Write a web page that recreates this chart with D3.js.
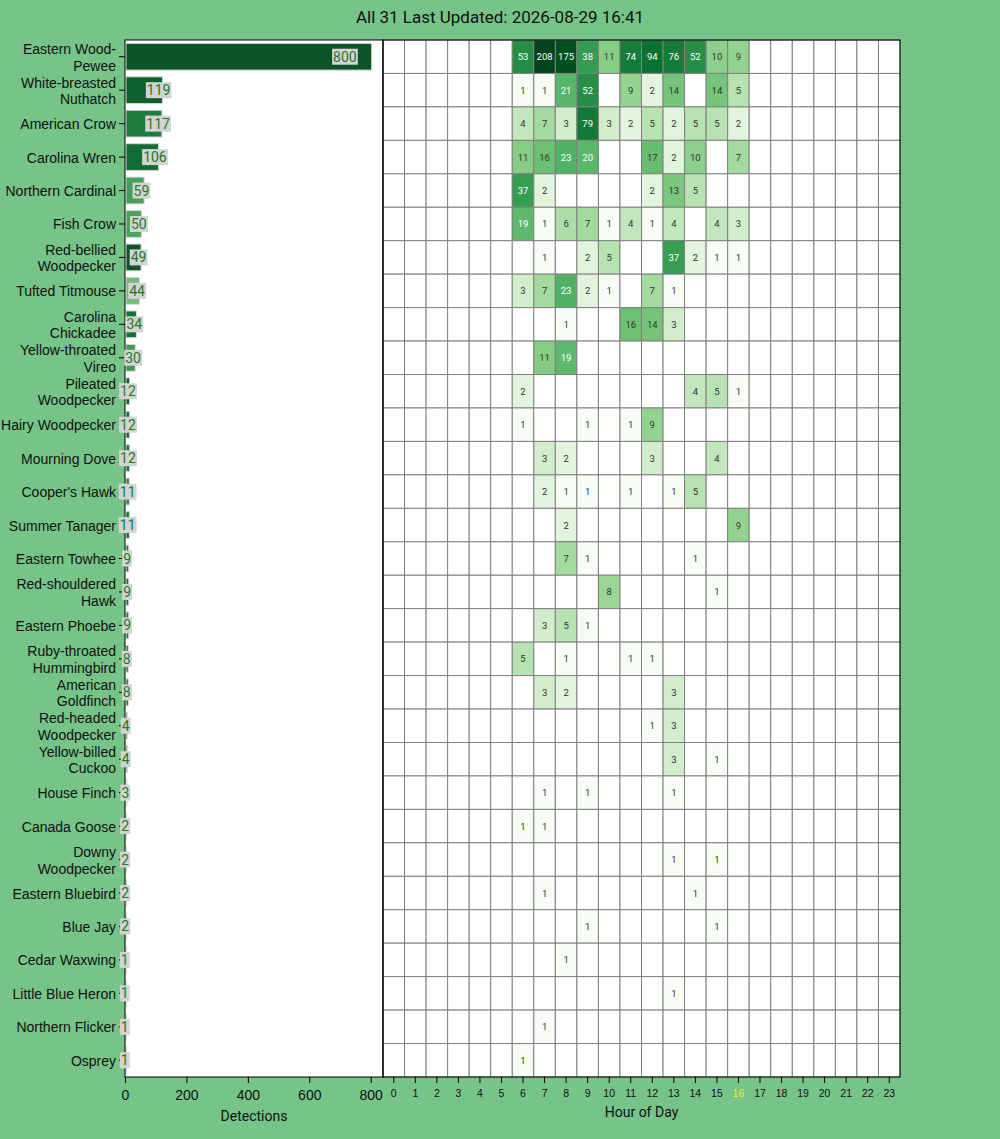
<!DOCTYPE html>
<html>
<head>
<meta charset="utf-8">
<script src="https://cdn.jsdelivr.net/npm/d3@7"></script>
<style>
  body { margin: 0; background: #76c488; }
  svg { display: block; font-family: Roboto, "DejaVu Sans", sans-serif; }
</style>
</head>
<body>
<div id="chart"></div>
<script>
// Chart data
const titleText = "All 31 Last Updated: 2026-08-29 16:41";
const currentHour = 16;

const species = [
  "Eastern Wood-Pewee", "White-breasted Nuthatch", "American Crow", "Carolina Wren",
  "Northern Cardinal", "Fish Crow", "Red-bellied Woodpecker", "Tufted Titmouse",
  "Carolina Chickadee", "Yellow-throated Vireo", "Pileated Woodpecker", "Hairy Woodpecker",
  "Mourning Dove", "Cooper's Hawk", "Summer Tanager", "Eastern Towhee",
  "Red-shouldered Hawk", "Eastern Phoebe", "Ruby-throated Hummingbird", "American Goldfinch",
  "Red-headed Woodpecker", "Yellow-billed Cuckoo", "House Finch", "Canada Goose",
  "Downy Woodpecker", "Eastern Bluebird", "Blue Jay", "Cedar Waxwing",
  "Little Blue Heron", "Northern Flicker", "Osprey"
];

const totals = [800, 119, 117, 106, 59, 50, 49, 44, 34, 30, 12, 12, 12, 11, 11, 9,
  9, 9, 8, 8, 4, 4, 3, 2, 2, 2, 2, 1, 1, 1, 1];

// mean confidence per species (drives the bar shade)
const meanConfidence = [0.97, 0.92, 0.80, 0.87, 0.62, 0.60, 0.97, 0.45, 0.85, 0.65, 0.92, 0.85,
  0.82, 0.75, 0.85, 0.8, 0.85, 0.8, 0.75, 0.8, 0.8, 0.75, 0.8, 0.8, 0.7, 0.8, 0.8, 0.7, 0.7, 0.7, 0.7];

const hours = d3.range(24);

// detections per hour, 0..23, one row per species
const hourly = [
  [0,0,0,0,0,0,53,208,175,38,11,74,94,76,52,10,9,0,0,0,0,0,0,0],
  [0,0,0,0,0,0,1,1,21,52,0,9,2,14,0,14,5,0,0,0,0,0,0,0],
  [0,0,0,0,0,0,4,7,3,79,3,2,5,2,5,5,2,0,0,0,0,0,0,0],
  [0,0,0,0,0,0,11,16,23,20,0,0,17,2,10,0,7,0,0,0,0,0,0,0],
  [0,0,0,0,0,0,37,2,0,0,0,0,2,13,5,0,0,0,0,0,0,0,0,0],
  [0,0,0,0,0,0,19,1,6,7,1,4,1,4,0,4,3,0,0,0,0,0,0,0],
  [0,0,0,0,0,0,0,1,0,2,5,0,0,37,2,1,1,0,0,0,0,0,0,0],
  [0,0,0,0,0,0,3,7,23,2,1,0,7,1,0,0,0,0,0,0,0,0,0,0],
  [0,0,0,0,0,0,0,0,1,0,0,16,14,3,0,0,0,0,0,0,0,0,0,0],
  [0,0,0,0,0,0,0,11,19,0,0,0,0,0,0,0,0,0,0,0,0,0,0,0],
  [0,0,0,0,0,0,2,0,0,0,0,0,0,0,4,5,1,0,0,0,0,0,0,0],
  [0,0,0,0,0,0,1,0,0,1,0,1,9,0,0,0,0,0,0,0,0,0,0,0],
  [0,0,0,0,0,0,0,3,2,0,0,0,3,0,0,4,0,0,0,0,0,0,0,0],
  [0,0,0,0,0,0,0,2,1,1,0,1,0,1,5,0,0,0,0,0,0,0,0,0],
  [0,0,0,0,0,0,0,0,2,0,0,0,0,0,0,0,9,0,0,0,0,0,0,0],
  [0,0,0,0,0,0,0,0,7,1,0,0,0,0,1,0,0,0,0,0,0,0,0,0],
  [0,0,0,0,0,0,0,0,0,0,8,0,0,0,0,1,0,0,0,0,0,0,0,0],
  [0,0,0,0,0,0,0,3,5,1,0,0,0,0,0,0,0,0,0,0,0,0,0,0],
  [0,0,0,0,0,0,5,0,1,0,0,1,1,0,0,0,0,0,0,0,0,0,0,0],
  [0,0,0,0,0,0,0,3,2,0,0,0,0,3,0,0,0,0,0,0,0,0,0,0],
  [0,0,0,0,0,0,0,0,0,0,0,0,1,3,0,0,0,0,0,0,0,0,0,0],
  [0,0,0,0,0,0,0,0,0,0,0,0,0,3,0,1,0,0,0,0,0,0,0,0],
  [0,0,0,0,0,0,0,1,0,1,0,0,0,1,0,0,0,0,0,0,0,0,0,0],
  [0,0,0,0,0,0,1,1,0,0,0,0,0,0,0,0,0,0,0,0,0,0,0,0],
  [0,0,0,0,0,0,0,0,0,0,0,0,0,1,0,1,0,0,0,0,0,0,0,0],
  [0,0,0,0,0,0,0,1,0,0,0,0,0,0,1,0,0,0,0,0,0,0,0,0],
  [0,0,0,0,0,0,0,0,0,1,0,0,0,0,0,1,0,0,0,0,0,0,0,0],
  [0,0,0,0,0,0,0,0,1,0,0,0,0,0,0,0,0,0,0,0,0,0,0,0],
  [0,0,0,0,0,0,0,0,0,0,0,0,0,1,0,0,0,0,0,0,0,0,0,0],
  [0,0,0,0,0,0,0,1,0,0,0,0,0,0,0,0,0,0,0,0,0,0,0,0],
  [0,0,0,0,0,0,1,0,0,0,0,0,0,0,0,0,0,0,0,0,0,0,0,0]
];

// Layout
const width = 1000, height = 1139;
const plotTop = 40, plotBottom = 1077;
const barLeft = 125, barRight = 383, heatRight = 900;

const svg = d3.select("#chart").append("svg")
  .attr("width", width)
  .attr("height", height);

svg.append("rect").attr("width", width).attr("height", height).attr("fill", "#76c488");

svg.append("text")
  .attr("x", width / 2)
  .attr("y", 23)
  .attr("text-anchor", "middle")
  .attr("font-size", 17)
  .attr("fill", "#111")
  .text(titleText);

// Scales
const y = d3.scaleBand().domain(species).range([plotTop, plotBottom]);
const x = d3.scaleLinear().domain([0, d3.max(totals) * 1.05]).range([barLeft, barRight]);
const hx = d3.scaleBand().domain(hours).range([barRight, heatRight]);
const barColor = d3.scaleSequential(d3.interpolateGreens).domain([0, 1]);
const heatColor = d3.scaleSequentialLog(d3.interpolateGreens).domain([1, d3.max(hourly.flat())]);

// Panels
svg.append("rect").attr("x", barLeft).attr("y", plotTop)
  .attr("width", barRight - barLeft).attr("height", plotBottom - plotTop).attr("fill", "white");
svg.append("rect").attr("x", barRight).attr("y", plotTop)
  .attr("width", heatRight - barRight).attr("height", plotBottom - plotTop).attr("fill", "white");

// Bars (slightly muted like the original)
const rows = species.map((s, i) => ({ name: s, total: totals[i], conf: meanConfidence[i] }));
const barPad = 0.2 * y.bandwidth() / 2;

svg.selectAll(".bar").data(rows).enter()
  .append("rect")
  .attr("class", "bar")
  .attr("x", x(0) + 1)
  .attr("y", d => y(d.name) + barPad)
  .attr("width", d => Math.max(x(d.total) - x(0), 0))
  .attr("height", y.bandwidth() - 2 * barPad)
  .attr("fill", d => d3.interpolateRgb(barColor(d.conf), "#3a6e4c")(0.2))
  .attr("stroke", "#d8d8d8")
  .attr("stroke-width", 1);

// Heatmap cells
const cells = [];
hourly.forEach((r, i) => r.forEach((v, h) => cells.push({ name: species[i], hour: h, v: v })));

svg.selectAll(".cell").data(cells).enter()
  .append("rect")
  .attr("class", "cell")
  .attr("x", d => hx(d.hour))
  .attr("y", d => y(d.name))
  .attr("width", hx.bandwidth())
  .attr("height", y.bandwidth())
  .attr("fill", d => d.v > 0 ? heatColor(d.v) : "white")
  .attr("stroke", "#808080")
  .attr("stroke-width", 1);

svg.selectAll(".cellText").data(cells.filter(d => d.v > 0)).enter()
  .append("text")
  .attr("class", "cellText")
  .attr("x", d => hx(d.hour) + hx.bandwidth() / 2)
  .attr("y", d => y(d.name) + y.bandwidth() / 2 + 3.5)
  .attr("text-anchor", "middle")
  .attr("font-size", 9.5)
  .attr("fill", d => Math.log(d.v) / Math.log(heatColor.domain()[1]) > 0.54 ? "white" : "#333")
  .text(d => d.v);

// Panel frames
svg.append("rect").attr("x", barLeft).attr("y", plotTop)
  .attr("width", barRight - barLeft).attr("height", plotBottom - plotTop)
  .attr("fill", "none").attr("stroke", "black");
svg.append("rect").attr("x", barRight).attr("y", plotTop)
  .attr("width", heatRight - barRight).attr("height", plotBottom - plotTop)
  .attr("fill", "none").attr("stroke", "black");

// Y axis with wrapped species names
let yAxis = svg.append("g")
  .attr("transform", `translate(${barLeft}, 0)`)
  .call(d3.axisLeft(y).tickSizeOuter(0));
yAxis.select(".domain").remove();
yAxis.selectAll("text").attr("font-size", 14).attr("fill", "#111").attr("font-family", null);

let wrap = (textSel, maxW) => {
  textSel.each(function () {
    let t = d3.select(this);
    let words = t.text().split(/(?<=-)|(?= )/);
    t.text(null);
    let lines = [];
    let line = "";
    let probe = t.append("tspan");
    words.forEach(w => {
      let test = line + w;
      probe.text(test);
      if (line !== "" && probe.node().getComputedTextLength() > maxW) {
        lines.push(line);
        line = w.trim();
      } else {
        line = test;
      }
    });
    lines.push(line);
    probe.remove();
    let xPos = t.attr("x");
    t.attr("dy", null).attr("y", lines.length > 1 ? -2.5 : 5.5);
    lines.forEach((l, k) => {
      t.append("tspan").attr("x", xPos).attr("dy", k === 0 ? 0 : 16.5).text(l);
    });
  });
};
yAxis.selectAll("text").call(wrap, 118);

// Count labels with grey boxes, drawn over the axis
let labels = svg.selectAll(".count").data(rows).enter()
  .append("g")
  .attr("class", "count");

labels.append("text")
  .attr("x", (d, i) => i === 0 ? x(d.total) - 14 : x(d.total) - 0.5 - d.total * 0.02)
  .attr("y", d => y(d.name) + y.bandwidth() / 2 + 5)
  .attr("text-anchor", (d, i) => i === 0 ? "end" : "middle")
  .attr("font-size", 14)
  .attr("fill", "#237a23")
  .text(d => d.total);

labels.each(function () {
  let t = d3.select(this).select("text");
  let b = t.node().getBBox();
  d3.select(this).insert("rect", "text")
    .attr("x", b.x - 1)
    .attr("y", b.y)
    .attr("width", b.width + 2)
    .attr("height", b.height)
    .attr("fill", "#d3d3d3");
});

// X axis for detections
let xAxis = svg.append("g")
  .attr("transform", `translate(0, ${plotBottom})`)
  .call(d3.axisBottom(x).tickValues([0, 200, 400, 600, 800]).tickSizeOuter(0));
xAxis.select(".domain").remove();
xAxis.selectAll("text").attr("font-size", 14).attr("fill", "#111").attr("font-family", null).attr("dy", "1em");

svg.append("text")
  .attr("x", (barLeft + barRight) / 2)
  .attr("y", 1121)
  .attr("text-anchor", "middle")
  .attr("font-size", 14)
  .attr("fill", "#111")
  .text("Detections");

// X axis for hours
let hAxis = svg.append("g")
  .attr("transform", `translate(0, ${plotBottom})`)
  .call(d3.axisBottom(hx).tickSizeOuter(0));
hAxis.select(".domain").remove();
hAxis.selectAll("text")
  .attr("font-size", 10.5)
  .attr("font-family", null)
  .attr("dy", "1em")
  .attr("fill", d => d === currentHour ? "#f2f21a" : "#111");

svg.append("text")
  .attr("x", (barRight + heatRight) / 2)
  .attr("y", 1117)
  .attr("text-anchor", "middle")
  .attr("font-size", 14)
  .attr("fill", "#111")
  .text("Hour of Day");
</script>
</body>
</html>
